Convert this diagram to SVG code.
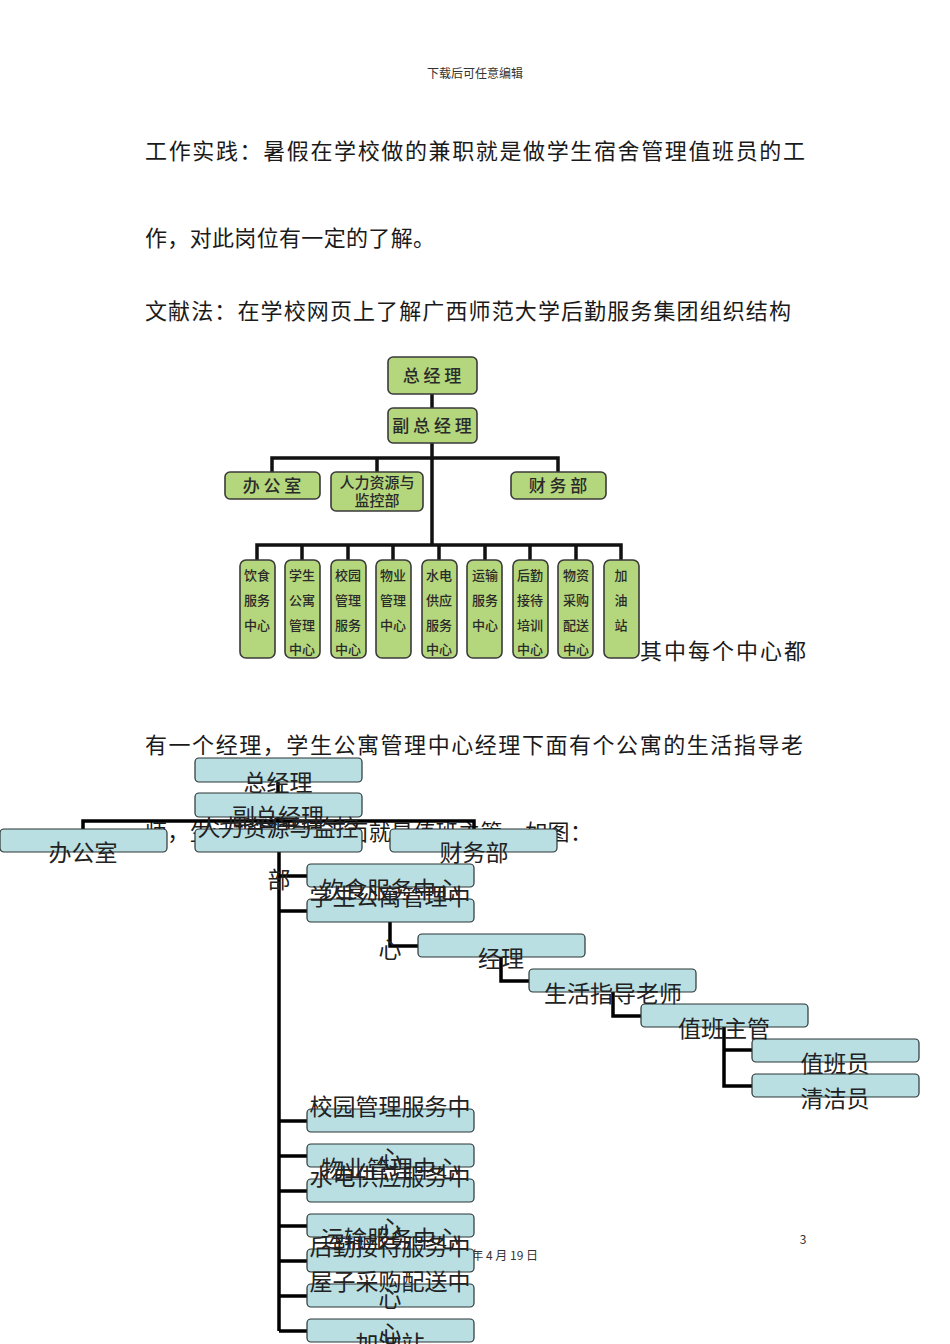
<svg xmlns="http://www.w3.org/2000/svg" width="950" height="1344" viewBox="0 0 950 1344">
<style>
.p{font-family:"Noto Sans CJK SC","Noto Sans",sans-serif;font-size:22px;fill:#1a1a1a}
.s{font-family:"Noto Sans CJK SC","Noto Sans",sans-serif;font-size:12px;fill:#333}
.g rect{fill:#b4d67c;stroke:#3a3a3a;stroke-width:1.6}
.gt{font-family:"Noto Sans CJK SC",sans-serif;font-size:17px;font-weight:500;fill:#2a2a2a;text-anchor:middle}
.gv{font-family:"Noto Sans CJK SC",sans-serif;font-size:13px;font-weight:500;fill:#2a2a2a;text-anchor:middle}
.gc{fill:none;stroke:#111;stroke-width:3.5}
.b rect{fill:#b9dfe3;stroke:#2b3535;stroke-width:1.2}
.bt{font-family:"Noto Sans CJK SC",sans-serif;font-size:23px;fill:#222;text-anchor:middle}
.bc{fill:none;stroke:#000;stroke-width:3.5}
</style>
<rect width="950" height="1344" fill="#fff"/>
<text class="s" x="475" y="78" text-anchor="middle">下载后可任意编辑</text>
<text class="p" x="145" y="159" textLength="660" lengthAdjust="spacing">工作实践：暑假在学校做的兼职就是做学生宿舍管理值班员的工</text>
<text class="p" x="145" y="246" textLength="290" lengthAdjust="spacing">作，对此岗位有一定的了解。</text>
<text class="p" x="145" y="319" textLength="646" lengthAdjust="spacing">文献法：在学校网页上了解广西师范大学后勤服务集团组织结构</text>
<text class="p" x="640" y="659" textLength="166" lengthAdjust="spacing">其中每个中心都</text>
<text class="p" x="145" y="753" textLength="658" lengthAdjust="spacing">有一个经理，学生公寓管理中心经理下面有个公寓的生活指导老</text>
<text class="p" x="145" y="840" textLength="447" lengthAdjust="spacing">师，生活指导老师下面就是值班主管，如图：</text>
<text class="s" x="803" y="1244" text-anchor="middle">3</text>
<text class="s" x="538" y="1260" text-anchor="end">2020 年 4 月 19 日</text>

<!-- top chart (green) -->
<g id="top-connectors">
<path class="gc" d="M432 394V408M432 443V545M272 472V458H558V472M377 458V472M257 560V545H621V560M302 545V560M348 545V560M393 545V560M439 545V560M485 545V560M530 545V560M576 545V560"/>
</g>
<g class="g">
<g id="g-zjl"><rect x="388" y="357" width="89" height="37" rx="5"/><text class="gt" x="432" y="382">总 经 理</text></g>
<g id="g-fzjl"><rect x="388" y="408" width="89" height="35" rx="5"/><text class="gt" x="432" y="432">副 总 经 理</text></g>
<g id="g-bgs"><rect x="225" y="472" width="95" height="27" rx="5"/><text class="gt" x="272" y="492">办 公 室</text></g>
<g id="g-rlzy"><rect x="331" y="472" width="92" height="39" rx="5"/><text class="gt" x="377" y="488" style="font-size:15px">人力资源与</text><text class="gt" x="377" y="506" style="font-size:15px">监控部</text></g>
<g id="g-cwb"><rect x="511" y="472" width="95" height="27" rx="5"/><text class="gt" x="558" y="492">财 务 部</text></g>
<g id="g-c1"><rect x="240" y="560" width="35" height="98" rx="6"/><text class="gv" x="257" y="580">饮食</text><text class="gv" x="257" y="605">服务</text><text class="gv" x="257" y="630">中心</text></g>
<g id="g-c2"><rect x="285" y="560" width="35" height="98" rx="6"/><text class="gv" x="302" y="580">学生</text><text class="gv" x="302" y="605">公寓</text><text class="gv" x="302" y="630">管理</text><text class="gv" x="302" y="654">中心</text></g>
<g id="g-c3"><rect x="331" y="560" width="35" height="98" rx="6"/><text class="gv" x="348" y="580">校园</text><text class="gv" x="348" y="605">管理</text><text class="gv" x="348" y="630">服务</text><text class="gv" x="348" y="654">中心</text></g>
<g id="g-c4"><rect x="376" y="560" width="35" height="98" rx="6"/><text class="gv" x="393" y="580">物业</text><text class="gv" x="393" y="605">管理</text><text class="gv" x="393" y="630">中心</text></g>
<g id="g-c5"><rect x="422" y="560" width="35" height="98" rx="6"/><text class="gv" x="439" y="580">水电</text><text class="gv" x="439" y="605">供应</text><text class="gv" x="439" y="630">服务</text><text class="gv" x="439" y="654">中心</text></g>
<g id="g-c6"><rect x="467" y="560" width="35" height="98" rx="6"/><text class="gv" x="485" y="580">运输</text><text class="gv" x="485" y="605">服务</text><text class="gv" x="485" y="630">中心</text></g>
<g id="g-c7"><rect x="513" y="560" width="35" height="98" rx="6"/><text class="gv" x="530" y="580">后勤</text><text class="gv" x="530" y="605">接待</text><text class="gv" x="530" y="630">培训</text><text class="gv" x="530" y="654">中心</text></g>
<g id="g-c8"><rect x="558" y="560" width="35" height="98" rx="6"/><text class="gv" x="576" y="580">物资</text><text class="gv" x="576" y="605">采购</text><text class="gv" x="576" y="630">配送</text><text class="gv" x="576" y="654">中心</text></g>
<g id="g-c9"><rect x="604" y="560" width="35" height="98" rx="6"/><text class="gv" x="621" y="580">加</text><text class="gv" x="621" y="605">油</text><text class="gv" x="621" y="630">站</text></g>
</g>

<!-- bottom chart (blue) -->
<g id="bottom-connectors">
<path class="bc" d="M278 782V793M278 817V821M83 829V821H474V829M279 852V1331M279 876H307M279 911H307M279 1121H307M279 1156H307M279 1191H307M279 1226H307M279 1261H307M279 1296H307M279 1331H307M390 922V946H418M501 957V981H529M613 992V1016H641M724 1027V1086H752M724 1050H752"/>
</g>
<g class="b">
<rect x="195" y="758" width="167" height="24" rx="4"/>
<rect x="195" y="793" width="167" height="24" rx="4"/>
<rect x="0" y="829" width="167" height="23" rx="4"/>
<rect x="195" y="829" width="167" height="23" rx="4"/>
<rect x="390" y="829" width="167" height="23" rx="4"/>
<rect x="307" y="864" width="167" height="23" rx="4"/>
<rect x="307" y="899" width="167" height="23" rx="4"/>
<rect x="418" y="934" width="167" height="23" rx="4"/>
<rect x="529" y="969" width="167" height="23" rx="4"/>
<rect x="641" y="1004" width="167" height="23" rx="4"/>
<rect x="752" y="1039" width="167" height="23" rx="4"/>
<rect x="752" y="1074" width="167" height="23" rx="4"/>
<rect x="307" y="1109" width="167" height="23" rx="4"/>
<rect x="307" y="1144" width="167" height="23" rx="4"/>
<rect x="307" y="1179" width="167" height="23" rx="4"/>
<rect x="307" y="1214" width="167" height="23" rx="4"/>
<rect x="307" y="1249" width="167" height="23" rx="4"/>
<rect x="307" y="1284" width="167" height="23" rx="4"/>
<rect x="307" y="1319" width="167" height="23" rx="4"/>
</g>
<g id="b-zjl"><text class="bt" x="278" y="791">总经理</text></g>
<g id="b-fzjl"><text class="bt" x="278" y="825">副总经理</text></g>
<g id="b-bgs"><text class="bt" x="83" y="861">办公室</text></g>
<g id="b-rlzy"><text class="bt" x="278" y="836">人力资源与监控</text><text class="bt" x="279" y="888">部</text></g>
<g id="b-cwb"><text class="bt" x="474" y="861">财务部</text></g>
<g id="b-ys"><text class="bt" x="390" y="898">饮食服务中心</text></g>
<g id="b-xsgy"><text class="bt" x="390" y="905">学生公寓管理中</text><text class="bt" x="390" y="958">心</text></g>
<g id="b-jl"><text class="bt" x="501" y="967">经理</text></g>
<g id="b-shzd"><text class="bt" x="613" y="1002">生活指导老师</text></g>
<g id="b-zbzg"><text class="bt" x="724" y="1037">值班主管</text></g>
<g id="b-zby"><text class="bt" x="835" y="1072">值班员</text></g>
<g id="b-qjy"><text class="bt" x="835" y="1107">清洁员</text></g>
<g id="b-xy"><text class="bt" x="390" y="1115">校园管理服务中</text><text class="bt" x="390" y="1167">心</text></g>
<g id="b-wy"><text class="bt" x="390" y="1177">物业管理中心</text></g>
<g id="b-sd"><text class="bt" x="390" y="1185">水电供应服务中</text><text class="bt" x="390" y="1237">心</text></g>
<g id="b-ysfw"><text class="bt" x="390" y="1247">运输服务中心</text></g>
<g id="b-hq"><text class="bt" x="390" y="1255">后勤接待服务中</text><text class="bt" x="390" y="1307">心</text></g>
<g id="b-wz"><text class="bt" x="390" y="1290">屋子采购配送中</text><text class="bt" x="390" y="1342">心</text></g>
<g id="b-jyz"><text class="bt" x="390" y="1352">加油站</text></g>
</svg>
